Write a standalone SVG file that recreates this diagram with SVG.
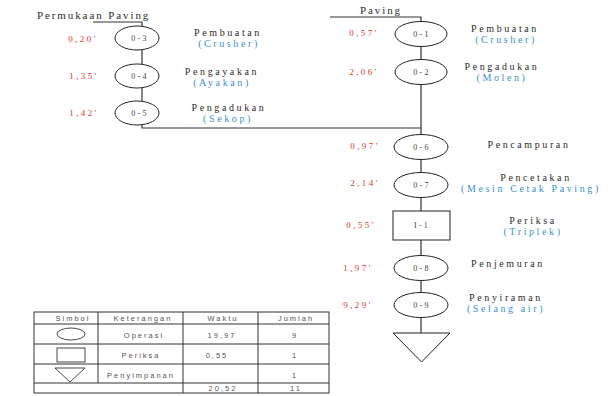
<svg xmlns="http://www.w3.org/2000/svg" width="612" height="396" viewBox="0 0 612 396">
<style>
.bg{fill:#ffffff}
.ln{stroke:#333;stroke-width:1.2;fill:none}
.sym{stroke:#222;stroke-width:1;fill:#fff}
.tsym{stroke:#333;stroke-width:0.9;fill:#fff}
.id{font-family:"Liberation Serif",serif;font-size:8px;letter-spacing:2.2px;fill:#444;text-anchor:middle;dominant-baseline:central}
.t{font-family:"Liberation Serif",serif;font-size:10px;letter-spacing:2.6px;fill:#2b2b2b;text-anchor:middle}
.b{font-family:"Liberation Serif",serif;font-size:10px;letter-spacing:2.6px;fill:#3d8fd1;text-anchor:middle}
.r{font-family:"Liberation Serif",serif;font-size:9px;letter-spacing:2.4px;fill:#e5332f;text-anchor:middle;dominant-baseline:central}
.hd{font-family:"Liberation Serif",serif;font-size:11px;letter-spacing:1.9px;fill:#2b2b2b}
.tb{font-family:"Liberation Sans",sans-serif;font-size:7.5px;letter-spacing:2px;fill:#555;text-anchor:middle;dominant-baseline:central}
.grid{stroke:#333;stroke-width:1;fill:none}
</style>
<rect class="bg" x="0" y="0" width="612" height="396"/>

<g id="connectors">
  <polyline class="ln" points="93,22 142,22 142,128 421,128"/>
  <polyline class="ln" points="330,17 421,17 421,333"/>
</g>

<text class="hd" x="37" y="19">Permukaan Paving</text>
<text class="hd" x="360" y="14">Paving</text>

<g id="n03">
  <ellipse class="sym" cx="137" cy="38" rx="22" ry="12"/>
  <text class="id" x="140" y="38">0-3</text>
  <text class="r" x="83" y="39">0,20'</text>
  <text class="t" x="228" y="35.5">Pembuatan</text>
  <text class="b" x="229" y="46.5">(Crusher)</text>
</g>
<g id="n04">
  <ellipse class="sym" cx="137" cy="76" rx="22" ry="12"/>
  <text class="id" x="140" y="76">0-4</text>
  <text class="r" x="84" y="76">1,35'</text>
  <text class="t" x="222" y="74.5">Pengayakan</text>
  <text class="b" x="222" y="85.5">(Ayakan)</text>
</g>
<g id="n05">
  <ellipse class="sym" cx="137" cy="113" rx="22" ry="12"/>
  <text class="id" x="140" y="113">0-5</text>
  <text class="r" x="84" y="113">1,42'</text>
  <text class="t" x="229" y="110.5">Pengadukan</text>
  <text class="b" x="228" y="121.5">(Sekop)</text>
</g>

<g id="n01">
  <ellipse class="sym" cx="421" cy="34" rx="26" ry="12.5"/>
  <text class="id" x="422" y="34">0-1</text>
  <text class="r" x="364" y="33">0,57'</text>
  <text class="t" x="505" y="32">Pembuatan</text>
  <text class="b" x="506" y="43">(Crusher)</text>
</g>
<g id="n02">
  <ellipse class="sym" cx="421" cy="72" rx="26" ry="12.5"/>
  <text class="id" x="422" y="72">0-2</text>
  <text class="r" x="364" y="72">2,06'</text>
  <text class="t" x="502" y="70">Pengadukan</text>
  <text class="b" x="502" y="81">(Molen)</text>
</g>
<g id="n06">
  <ellipse class="sym" cx="421" cy="147" rx="27" ry="12.5"/>
  <text class="id" x="422" y="147">0-6</text>
  <text class="r" x="365" y="146">0,97'</text>
  <text class="t" x="529" y="148">Pencampuran</text>
</g>
<g id="n07">
  <ellipse class="sym" cx="421" cy="185" rx="27" ry="12.5"/>
  <text class="id" x="422" y="185">0-7</text>
  <text class="r" x="365" y="183">2,14'</text>
  <text class="t" x="536" y="180.5">Pencetakan</text>
  <text class="b" x="531" y="191.5">(Mesin Cetak Paving)</text>
</g>
<g id="i11">
  <rect class="sym" x="393" y="211" width="57" height="29"/>
  <text class="id" x="422" y="225.5">I-1</text>
  <text class="r" x="361" y="225">0,55'</text>
  <text class="t" x="533" y="224">Periksa</text>
  <text class="b" x="533" y="235">(Triplek)</text>
</g>
<g id="n08">
  <ellipse class="sym" cx="421" cy="268" rx="27" ry="12.5"/>
  <text class="id" x="422" y="268">0-8</text>
  <text class="r" x="358" y="268">1,97'</text>
  <text class="t" x="508" y="267">Penjemuran</text>
</g>
<g id="n09">
  <ellipse class="sym" cx="421" cy="305" rx="27" ry="12.5"/>
  <text class="id" x="422" y="305">0-9</text>
  <text class="r" x="358" y="305">9,29'</text>
  <text class="t" x="506" y="301">Penyiraman</text>
  <text class="b" x="506" y="312">(Selang air)</text>
</g>
<g id="storage">
  <polygon class="sym" points="393,333 450,333 421.5,362"/>
</g>

<g id="legend">
  <rect class="grid" x="34" y="312" width="295" height="81"/>
  <line class="grid" x1="34" y1="324" x2="329" y2="324"/>
  <line class="grid" x1="34" y1="344" x2="329" y2="344"/>
  <line class="grid" x1="34" y1="364" x2="329" y2="364"/>
  <line class="grid" x1="34" y1="383" x2="329" y2="383"/>
  <line class="grid" x1="98" y1="312" x2="98" y2="383"/>
  <line class="grid" x1="183" y1="312" x2="183" y2="393"/>
  <line class="grid" x1="258" y1="312" x2="258" y2="393"/>
  <ellipse class="tsym" cx="71" cy="334" rx="14" ry="6"/>
  <rect class="tsym" x="57" y="348" width="28" height="14"/>
  <polygon class="tsym" points="55,368 85,368 70,382"/>
  <text class="tb" x="73" y="318.5">Simbol</text>
  <text class="tb" x="143" y="318.5">Keterangan</text>
  <text class="tb" x="223" y="318.5">Waktu</text>
  <text class="tb" x="296" y="318.5">Jumlah</text>
  <text class="tb" x="144" y="335">Operasi</text>
  <text class="tb" x="222" y="335">19,97</text>
  <text class="tb" x="295" y="335">9</text>
  <text class="tb" x="141" y="355">Periksa</text>
  <text class="tb" x="217" y="355">0,55</text>
  <text class="tb" x="295" y="355">1</text>
  <text class="tb" x="141" y="375">Penyimpanan</text>
  <text class="tb" x="295" y="375">1</text>
  <text class="tb" x="223" y="388.5">20,52</text>
  <text class="tb" x="296" y="388.5">11</text>
</g>
</svg>
